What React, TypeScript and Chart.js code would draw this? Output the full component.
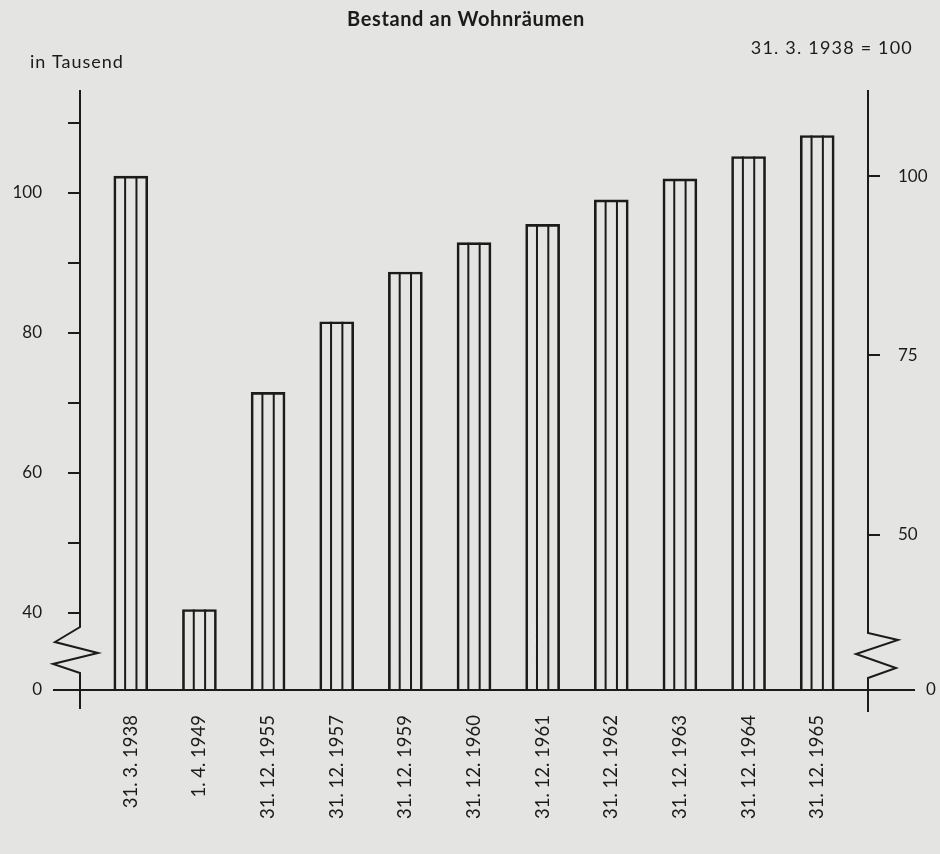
import React, { useEffect, useRef } from 'react';
import { Chart, registerables } from 'chart.js';

Chart.register(...registerables);

// ---- data ----
const categories = [
  '31. 3. 1938', '1. 4. 1949', '31. 12. 1955', '31. 12. 1957', '31. 12. 1959',
  '31. 12. 1960', '31. 12. 1961', '31. 12. 1962', '31. 12. 1963', '31. 12. 1964', '31. 12. 1965',
];
const rooms = [102.4, 40.5, 71.5, 81.6, 88.7, 92.9, 95.5, 99.0, 102.0, 105.2, 108.2]; // Wohnräume in Tausend
const leftTickValues = [0, 40, 50, 60, 70, 80, 90, 100, 110];
const leftTickLabels = ['0', '40', '', '60', '', '80', '', '100', ''];
const rightTickValues = [0, 50, 75, 100]; // index, 31.3.1938 = 100
const rightTickLabels = ['', '50', '75', '100'];
const breakOffset = 29; // scale break between 0 and 40
const indexBase = rooms[0];
const titleText = 'Bestand an Wohnräumen';
const leftUnit = 'in Tausend';
const rightUnit = '31. 3. 1938 = 100';
const rightZero = '0';

const ink = '#1b1b1b';
const paper = '#e4e4e2';
const font = 'Lato, "Open Sans", "DejaVu Sans", sans-serif';

const tf = (v: number) => (v <= 0 ? 0 : v - breakOffset);

const decor = {
  id: 'decor',
  afterDatasetsDraw(chart: any) {
    const ctx = chart.ctx;
    const { left, right, top } = chart.chartArea;
    const base = chart.scales.y.getPixelForValue(0);
    ctx.save();
    ctx.strokeStyle = ink;
    ctx.lineWidth = 2;
    ctx.lineJoin = 'miter';
    ctx.beginPath();
    // inner stripes of bars
    const meta = chart.getDatasetMeta(0);
    meta.data.forEach((bar: any) => {
      const p = bar.getProps(['x', 'y', 'width', 'base'], true);
      for (let k = 1; k <= 2; k++) {
        const xx = p.x - p.width / 2 + (p.width * k) / 3;
        ctx.moveTo(xx, p.y);
        ctx.lineTo(xx, p.base);
      }
    });
    // baseline
    ctx.moveTo(left - 27, base);
    ctx.lineTo(right + 47, base);
    // left axis with break
    ctx.moveTo(left, top);
    ctx.lineTo(left, base - 63);
    ctx.lineTo(left - 25, base - 48);
    ctx.lineTo(left + 18, base - 37);
    ctx.lineTo(left - 27, base - 26);
    ctx.lineTo(left, base - 17);
    ctx.lineTo(left, base + 19);
    // right axis with break
    ctx.moveTo(right, top);
    ctx.lineTo(right, base - 57);
    ctx.lineTo(right + 30, base - 50);
    ctx.lineTo(right - 12, base - 36);
    ctx.lineTo(right + 28, base - 22);
    ctx.lineTo(right, base - 12);
    ctx.lineTo(right, base + 22);
    ctx.stroke();

    // texts
    ctx.fillStyle = ink;
    ctx.textBaseline = 'middle';
    ctx.font = `bold 20px ${font}`;
    ctx.letterSpacing = '0.6px';
    ctx.textAlign = 'center';
    ctx.fillText(titleText, 466, 20);
    ctx.font = `18px ${font}`;
    ctx.letterSpacing = '1px';
    ctx.textAlign = 'left';
    ctx.fillText(leftUnit, 30, 62);
    ctx.letterSpacing = '1.2px';
    ctx.textAlign = 'right';
    ctx.fillText(rightUnit, 913, 48);
    ctx.letterSpacing = '0px';
    ctx.font = `17px ${font}`;
    ctx.textAlign = 'left';
    ctx.fillText(rightZero, right + 58, base);
    ctx.restore();
  },
};

export default function App() {
  const ref = useRef<HTMLCanvasElement>(null);
  useEffect(() => {
    if (!ref.current) return;
    const chart = new Chart(ref.current, {
      type: 'bar',
      data: {
        datasets: [
          {
            data: rooms.map((v, i) => ({ x: i, y: tf(v) })),
            backgroundColor: 'rgba(0,0,0,0)',
            borderColor: ink,
            borderWidth: 2,
            borderSkipped: 'bottom',
            barThickness: 34,
            yAxisID: 'y',
          },
        ],
      },
      plugins: [decor],
      options: {
        responsive: false,
        animation: false,
        devicePixelRatio: 1,
        layout: { autoPadding: false, padding: { top: 90, left: 8, right: 0, bottom: 0 } },
        plugins: { legend: { display: false }, tooltip: { enabled: false }, title: { display: false } },
        scales: {
          x: {
            type: 'linear',
            offset: false,
            min: -0.74,
            max: 10.74,
            grid: { display: false, offset: false },
            border: { display: false },
            afterBuildTicks: (s: any) => {
              s.ticks = categories.map((_, i) => ({ value: i }));
            },
            afterFit: (s: any) => {
              s.height = 164;
              s.paddingLeft = 0;
              s.paddingRight = 0;
            },
            ticks: {
              autoSkip: false,
              minRotation: 90,
              maxRotation: 90,
              padding: 17,
              color: ink,
              font: { family: font, size: 18.5 },
              callback: (v: any) => categories[Math.round(Number(v))] ?? '',
            },
          },
          y: {
            type: 'linear',
            position: 'left',
            min: 0,
            max: 85.7,
            border: { display: false },
            grid: { drawOnChartArea: false, drawTicks: true, tickLength: 12, color: ink, lineWidth: 2 },
            afterBuildTicks: (s: any) => {
              s.ticks = leftTickValues.map((v) => ({ value: tf(v) }));
            },
            afterFit: (s: any) => {
              s.width = 72;
            },
            ticks: {
              padding: 26,
              color: ink,
              font: { family: font, size: 17 },
              callback: (_v: any, i: number) => leftTickLabels[i],
            },
          },
          y2: {
            type: 'linear',
            position: 'right',
            min: 0,
            max: 85.7,
            border: { display: false },
            grid: { drawOnChartArea: false, drawTicks: true, tickLength: 12, color: ink, lineWidth: 2 },
            afterBuildTicks: (s: any) => {
              s.ticks = rightTickValues.map((v) => ({ value: tf((v * indexBase) / 100) }));
            },
            afterFit: (s: any) => {
              s.width = 72;
            },
            ticks: {
              padding: 18,
              color: ink,
              font: { family: font, size: 17 },
              callback: (_v: any, i: number) => rightTickLabels[i],
            },
          },
        },
      },
    } as any);
    return () => chart.destroy();
  }, []);
  return (
    <div style={{ position: 'fixed', left: 0, top: 0, width: 940, height: 854, background: paper }}>
      <canvas ref={ref} width={940} height={854} style={{ display: 'block' }} />
    </div>
  );
}
